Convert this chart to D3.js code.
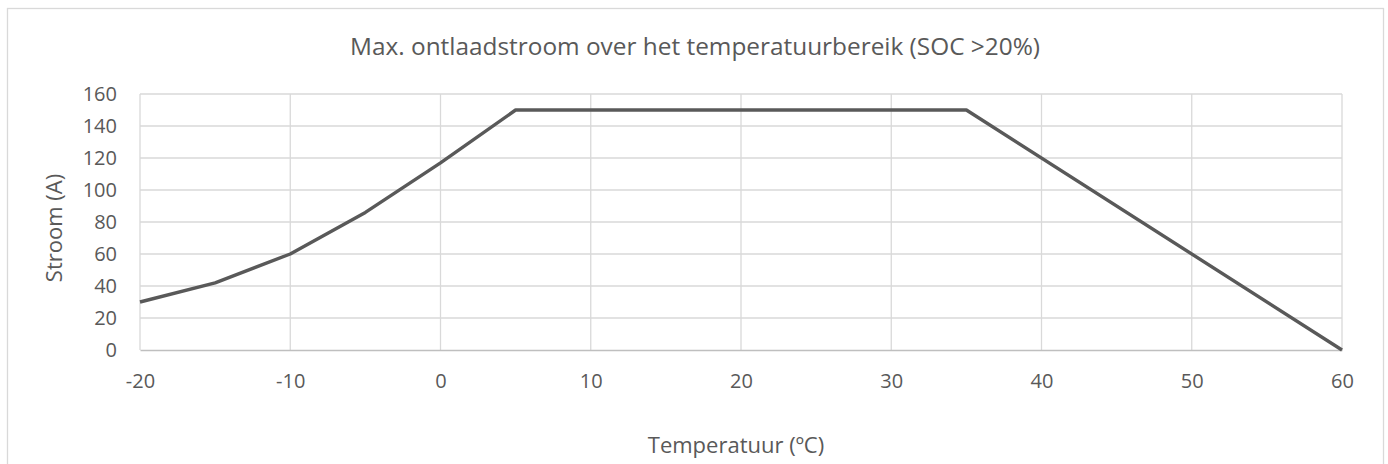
<!DOCTYPE html>
<html>
<head>
<meta charset="utf-8">
<script src="https://cdn.jsdelivr.net/npm/d3@7"></script>
<style>
  body { margin: 0; background: #fff; }
  text { font-family: "Open Sans", sans-serif; fill: #595959; }
</style>
</head>
<body>
<svg id="chart" width="1388" height="464"></svg>
<script>
const temps = [-20, -15, -10, -5, 0, 5, 35, 60];
const current = [30, 42, 60, 86, 117, 150, 150, 0];
const xTicks = [-20, -10, 0, 10, 20, 30, 40, 50, 60];
const yTicks = [0, 20, 40, 60, 80, 100, 120, 140, 160];

const chartTitle = "Max. ontlaadstroom over het temperatuurbereik (SOC >20%)";
const xTitle = "Temperatuur (ºC)";
const yTitle = "Stroom (A)";

const plotLeft = 140, plotRight = 1342, plotTop = 94, plotBottom = 350;

const svg = d3.select("#chart");

// chart border
svg.append("rect")
  .attr("x", 7.5).attr("y", 8.5)
  .attr("width", 1376).attr("height", 460)
  .attr("fill", "none").attr("stroke", "#d9d9d9").attr("stroke-width", 1.3);

const x = d3.scaleLinear().domain([-20, 60]).range([plotLeft, plotRight]);
const y = d3.scaleLinear().domain([0, 160]).range([plotBottom, plotTop]);

// gridlines
svg.append("g").selectAll("line").data(yTicks.filter(d => d > 0)).join("line")
  .attr("x1", plotLeft).attr("x2", plotRight)
  .attr("y1", d => y(d)).attr("y2", d => y(d))
  .attr("stroke", "#d9d9d9").attr("stroke-width", 1.3);

svg.append("g").selectAll("line").data(xTicks).join("line")
  .attr("x1", d => x(d)).attr("x2", d => x(d))
  .attr("y1", plotTop).attr("y2", plotBottom)
  .attr("stroke", "#d9d9d9").attr("stroke-width", 1.3);

// x axis (plain hyphen for negatives, like the original)
const xaxis = d3.axisBottom(x).tickValues(xTicks).tickSize(0).tickPadding(24)
  .tickFormat(d => String(d));
const gx = svg.append("g").attr("transform", "translate(0," + plotBottom + ")").call(xaxis);
gx.select(".domain").attr("stroke", "#bfbfbf").attr("stroke-width", 1.3);
gx.selectAll("text").attr("font-size", 20).attr("fill", "#595959").attr("font-family", "Open Sans");

// y axis
const yaxis = d3.axisLeft(y).tickValues(yTicks).tickSize(0).tickPadding(23)
  .tickFormat(d => String(d));
const gy = svg.append("g").attr("transform", "translate(" + plotLeft + ",0)").call(yaxis);
gy.select(".domain").remove();
gy.selectAll("text").attr("font-size", 20).attr("fill", "#595959").attr("font-family", "Open Sans");

// data line
svg.append("path")
  .datum(temps.map((t, i) => [t, current[i]]))
  .attr("fill", "none")
  .attr("stroke", "#595959")
  .attr("stroke-width", 3.4)
  .attr("stroke-linejoin", "round")
  .attr("d", d3.line().x(d => x(d[0])).y(d => y(d[1])));

// titles
svg.append("text")
  .attr("x", 695).attr("y", 55)
  .attr("text-anchor", "middle")
  .attr("font-size", 24)
  .attr("textLength", 690)
  .attr("lengthAdjust", "spacingAndGlyphs")
  .text(chartTitle);

svg.append("text")
  .attr("x", 736).attr("y", 453)
  .attr("text-anchor", "middle")
  .attr("font-size", 22)
  .text(xTitle);

svg.append("text")
  .attr("transform", "translate(62,228) rotate(-90)")
  .attr("text-anchor", "middle")
  .attr("font-size", 22)
  .text(yTitle);
</script>
</body>
</html>
